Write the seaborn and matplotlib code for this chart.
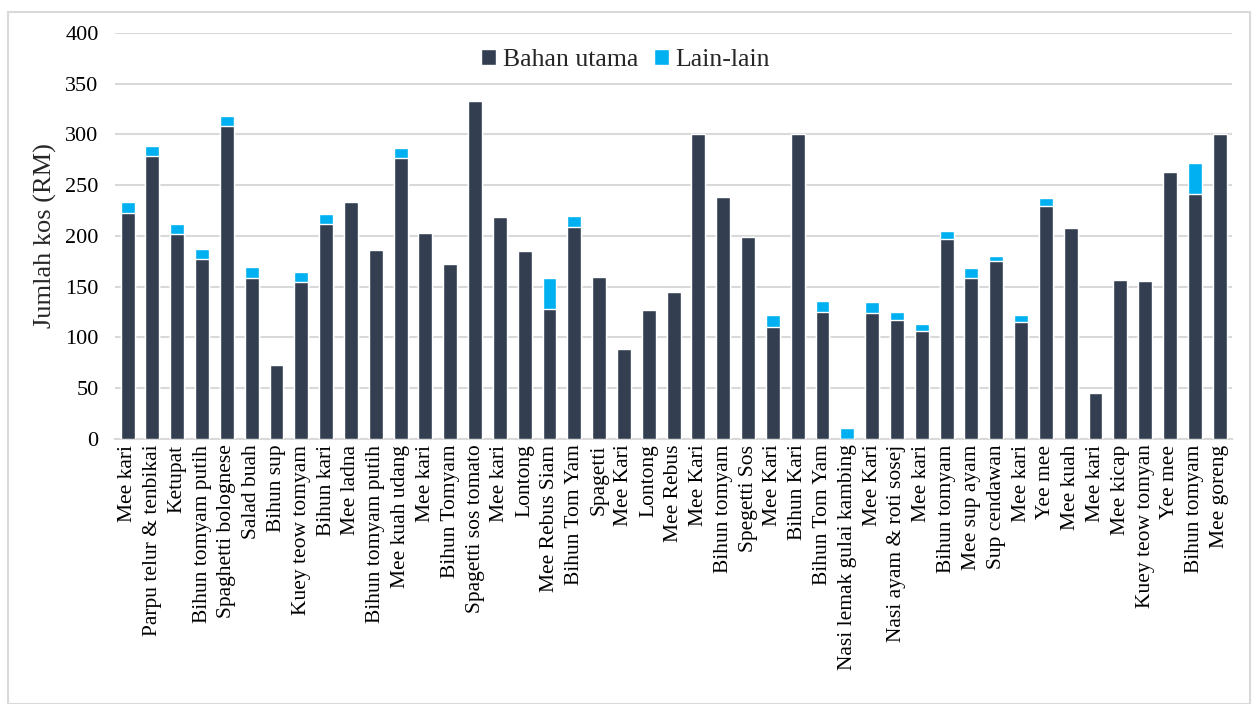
import numpy as np
import pandas as pd
import seaborn as sns
import matplotlib.pyplot as plt
from matplotlib.patches import Rectangle

labels = [
    "Mee kari", "Parpu telur & tenbikai", "Ketupat", "Bihun tomyam putih",
    "Spaghetti bolognese", "Salad buah", "Bihun sup", "Kuey teow tomyam",
    "Bihun kari", "Mee ladna", "Bihun tomyam putih", "Mee kuah udang",
    "Mee kari", "Bihun Tomyam", "Spagetti sos tomato", "Mee kari", "Lontong",
    "Mee Rebus Siam", "Bihun Tom Yam", "Spagetti", "Mee Kari", "Lontong",
    "Mee Rebus", "Mee Kari", "Bihun tomyam", "Spegetti Sos", "Mee Kari",
    "Bihun Kari", "Bihun Tom Yam", "Nasi lemak gulai kambing", "Mee Kari",
    "Nasi ayam & roti sosej", "Mee kari", "Bihun tomyam", "Mee sup ayam",
    "Sup cendawan", "Mee kari", "Yee mee", "Mee kuah", "Mee kari", "Mee kicap",
    "Kuey teow tomyan", "Yee mee", "Bihun tomyam", "Mee goreng",
]
bahan_utama = [223, 279, 202, 177, 308, 159, 73, 155, 212, 233, 186, 277,
               203, 172, 333, 219, 185, 128, 209, 160, 89, 127, 145, 300,
               238, 199, 110, 300, 125, 0, 124, 117, 106, 197, 159, 175,
               115, 230, 208, 45, 157, 156, 263, 241, 300]
lain_lain = [10, 10, 10, 10, 10, 10, 0, 10, 10, 0, 0, 10,
             0, 0, 0, 0, 0, 31, 11, 0, 0, 0, 0, 0,
             0, 0, 12, 0, 11, 11, 11, 8, 7, 8, 9, 5,
             7, 7, 0, 0, 0, 0, 0, 31, 0]

df = pd.DataFrame({"idx": np.arange(len(labels)), "label": labels,
                   "main": bahan_utama, "other": lain_lain})
df["total"] = df["main"] + df["other"]

sns.set_style("white")
plt.rcParams["font.family"] = ["Liberation Serif", "DejaVu Serif"]

fig = plt.figure(figsize=(12.52, 7.04), dpi=100)
ax = fig.add_axes([0.092, 0.3764, 0.892, 0.5768])

sns.barplot(data=df, x="idx", y="total", color="#00B0F0", width=0.56,
            saturation=1, label="Lain-lain", ax=ax, zorder=3)
sns.barplot(data=df, x="idx", y="main", color="#333F50", width=0.56,
            saturation=1, label="Bahan utama", ax=ax, zorder=3)

ax.set_ylim(0, 400)
ax.set_xlim(-0.5, len(labels) - 0.5)
ax.set_yticks(range(0, 401, 50))
ax.yaxis.grid(True, color="#D9D9D9", linewidth=1.5, zorder=0)
ax.set_axisbelow(True)
for s in ["top", "right", "left"]:
    ax.spines[s].set_visible(False)
ax.spines["bottom"].set_color("#D9D9D9")
ax.spines["bottom"].set_linewidth(1.5)
ax.tick_params(axis="both", length=0, colors="black")
ax.tick_params(axis="x", labelsize=15.5, pad=4)
ax.tick_params(axis="y", labelsize=16, pad=12)
ax.set_xticks(df["idx"])
ax.set_xticklabels(labels, rotation=90)
ax.set_xlabel("")
ax.set_ylabel("Jumlah kos (RM)", fontsize=19, labelpad=6)

h, l = ax.get_legend_handles_labels()
ax.legend(h[::-1], l[::-1], loc="center", bbox_to_anchor=(0.457, 0.933),
          ncol=2, frameon=False, fontsize=18.5, handlelength=0.6,
          handleheight=0.6, handletextpad=0.25, columnspacing=0.6)

fig.patches.append(Rectangle((8 / 1252, 0), 1242 / 1252, 692 / 704,
                             transform=fig.transFigure, fill=False,
                             edgecolor="#D9D9D9", linewidth=1.5))

fig.savefig("out.png", dpi=100)
